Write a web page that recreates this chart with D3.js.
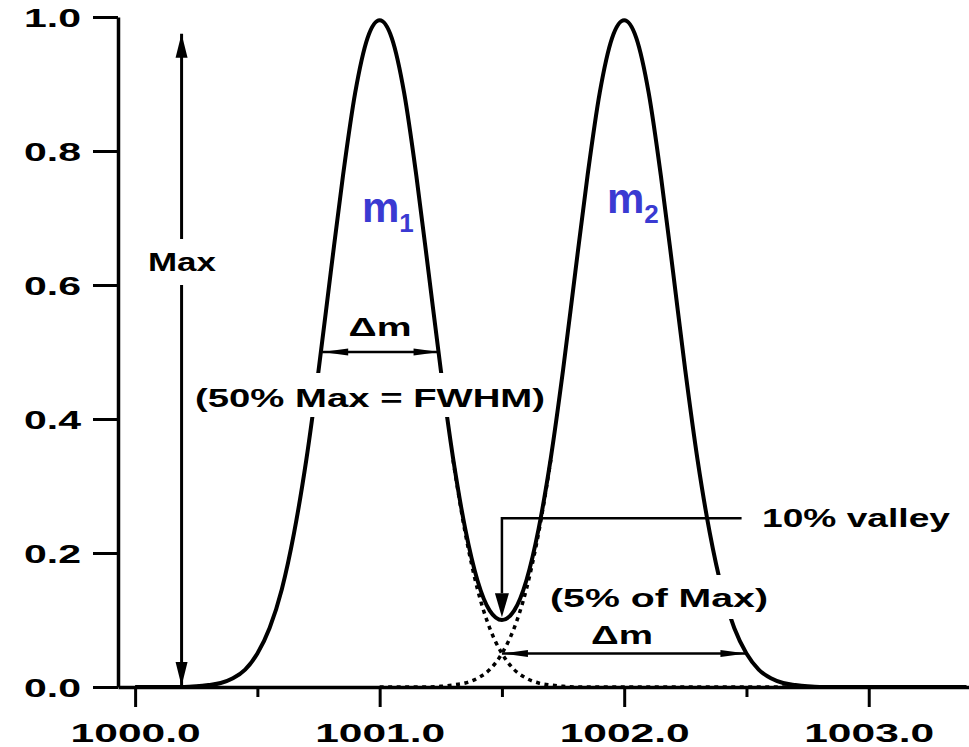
<!DOCTYPE html>
<html>
<head>
<meta charset="utf-8">
<script src="https://cdn.jsdelivr.net/npm/d3@7"></script>
<style>
  body { margin: 0; background: #fff; }
  svg { display: block; }
  text { font-family: "Liberation Sans", Arial, sans-serif; font-weight: bold; fill: #000; }
</style>
</head>
<body>
<svg id="chart" width="969" height="747"></svg>
<script>
// mass axis (u) and signal
const totalMass = [1000.0,
  1000.20, 1000.25, 1000.30, 1000.35, 1000.40, 1000.45, 1000.50, 1000.55, 1000.60, 1000.65,
  1000.70, 1000.75, 1000.80, 1000.85, 1000.90, 1000.95, 1001.00, 1001.05, 1001.10, 1001.15,
  1001.20, 1001.25, 1001.30, 1001.35, 1001.40, 1001.45, 1001.50, 1001.55, 1001.60, 1001.65,
  1001.70, 1001.75, 1001.80, 1001.85, 1001.90, 1001.95, 1002.00, 1002.05, 1002.10, 1002.15,
  1002.20, 1002.25, 1002.30, 1002.35, 1002.40, 1002.45, 1002.50, 1002.55, 1002.60, 1002.65,
  1002.70, 1002.75, 1002.80,
  1003.40];
const totalSignal = [0,
  0.000, 0.001, 0.003, 0.006, 0.013, 0.026, 0.050, 0.088, 0.146, 0.230,
  0.339, 0.472, 0.619, 0.763, 0.887, 0.968, 0.995, 0.968, 0.887, 0.763,
  0.619, 0.473, 0.342, 0.236, 0.159, 0.114, 0.100, 0.114, 0.159, 0.236,
  0.342, 0.473, 0.619, 0.763, 0.887, 0.968, 0.995, 0.968, 0.887, 0.763,
  0.619, 0.472, 0.339, 0.230, 0.146, 0.088, 0.050, 0.026, 0.013, 0.006,
  0.003, 0.001, 0.000,
  0];

// single peaks (dotted) where they separate from the sum
const peak1Mass = [1001.30, 1001.35, 1001.40, 1001.45, 1001.50, 1001.55, 1001.60, 1001.65, 1001.70, 1001.75, 1001.80, 1002.70];
const peak1Signal = [0.339, 0.230, 0.146, 0.088, 0.050, 0.026, 0.013, 0.006, 0.003, 0.001, 0.000, 0];
const peak2Mass = [1001.00, 1001.20, 1001.25, 1001.30, 1001.35, 1001.40, 1001.45, 1001.50, 1001.55, 1001.60, 1001.65, 1001.70];
const peak2Signal = [0, 0.000, 0.001, 0.003, 0.006, 0.013, 0.026, 0.050, 0.088, 0.146, 0.230, 0.339];

const xMajorTicks = [1000.0, 1001.0, 1002.0, 1003.0];
const xMinorTicks = [1000.5, 1001.5, 1002.5];
const yTicks = [0.0, 0.2, 0.4, 0.6, 0.8, 1.0];

const svg = d3.select("#chart");

const x = d3.scaleLinear().domain([999.93, 1003.41]).range([118, 969]);
const y = d3.scaleLinear().domain([0, 1]).range([687, 17]);

const line = d3.line().x(d => x(d[0])).y(d => y(d[1])).curve(d3.curveMonotoneX);

// dotted individual peaks
[[peak1Mass, peak1Signal], [peak2Mass, peak2Signal]].forEach(([m, s]) => {
  svg.append("path")
    .datum(d3.zip(m, s))
    .attr("d", line)
    .attr("fill", "none")
    .attr("stroke", "#000")
    .attr("stroke-width", 3.5)
    .attr("stroke-dasharray", "4,4.5");
});

// summed spectrum
svg.append("path")
  .datum(d3.zip(totalMass, totalSignal))
  .attr("d", line)
  .attr("fill", "none")
  .attr("stroke", "#000")
  .attr("stroke-width", 4)
  .attr("stroke-linejoin", "round");

// axes
const yAxis = svg.append("g")
  .attr("transform", `translate(${x.range()[0]},0)`)
  .call(d3.axisLeft(y).tickValues(yTicks).tickSize(25).tickSizeOuter(0).tickFormat(d3.format(".1f")));
yAxis.select(".domain").attr("stroke-width", 3.5);
yAxis.selectAll(".tick line").attr("stroke-width", 3);
yAxis.selectAll(".tick text")
  .attr("x", -37).attr("dy", "0.36em")
  .attr("font-size", 26)
  .attr("textLength", 57).attr("lengthAdjust", "spacingAndGlyphs");

const xAxis = svg.append("g")
  .attr("transform", `translate(0,${y(0)})`)
  .call(d3.axisBottom(x).tickValues(xMajorTicks).tickSize(20).tickSizeOuter(0).tickFormat(d3.format(".1f")));
xAxis.select(".domain").attr("stroke-width", 3.5);
xAxis.selectAll(".tick line").attr("stroke-width", 3);
xAxis.selectAll(".tick text")
  .attr("y", 55).attr("dy", 0)
  .attr("font-size", 26)
  .attr("textLength", 130).attr("lengthAdjust", "spacingAndGlyphs");

svg.append("g")
  .attr("transform", `translate(0,${y(0)})`)
  .call(d3.axisBottom(x).tickValues(xMinorTicks).tickSize(10).tickFormat(""))
  .call(g => g.select(".domain").remove())
  .selectAll(".tick line").attr("stroke-width", 3);

// arrows
const ann = svg.append("g").attr("stroke", "#000").attr("fill", "#000");

function head(tx, ty, dx, dy, len, hw) {
  const bx = tx - dx * len, by = ty - dy * len;
  const px = -dy * hw, py = dx * hw;
  ann.append("path")
    .attr("stroke", "none")
    .attr("d", `M${tx},${ty}L${bx + px},${by + py}L${bx - px},${by - py}Z`);
}

// Max double arrow
const maxX = x(1000.19);
ann.append("line").attr("x1", maxX).attr("x2", maxX)
  .attr("y1", y(0)).attr("y2", y(0.975)).attr("stroke-width", 3);
head(maxX, y(0.975), 0, -1, 24, 6);
head(maxX, y(0) - 1, 0, 1, 24, 6);

// FWHM double arrow
const fwhmL = x(1000.765), fwhmR = x(1001.245), fwhmY = y(0.5);
ann.append("line").attr("x1", fwhmL).attr("x2", fwhmR)
  .attr("y1", fwhmY).attr("y2", fwhmY).attr("stroke-width", 2.5);
head(fwhmL, fwhmY, -1, 0, 26, 3.5);
head(fwhmR, fwhmY, 1, 0, 26, 3.5);

// 10% valley pointer
const vX = x(1001.5), vY = y(0.252);
ann.append("path").attr("fill", "none").attr("stroke-width", 2.5)
  .attr("d", `M${x(1002.48)},${vY}H${vX}V${y(0.14)}`);
head(vX, y(0.104), 0, 1, 24, 7);

// 5% double arrow
const fiveL = x(1001.5), fiveR = x(1002.5), fiveY = y(0.05);
ann.append("line").attr("x1", fiveL).attr("x2", fiveR)
  .attr("y1", fiveY).attr("y2", fiveY).attr("stroke-width", 2.5);
head(fiveL, fiveY, -1, 0, 26, 3.5);
head(fiveR, fiveY, 1, 0, 26, 3.5);

// labels (wide, scanned-type lettering)
function label(txt, cx, base, width, bg) {
  if (bg) {
    svg.append("rect")
      .attr("x", cx - width / 2 - bg[0]).attr("y", base - 22 - bg[1])
      .attr("width", width + 2 * bg[0]).attr("height", 28 + bg[1] + bg[2])
      .attr("fill", "#fff");
  }
  svg.append("text")
    .attr("x", cx).attr("y", base)
    .attr("text-anchor", "middle")
    .attr("font-size", 26)
    .attr("textLength", width).attr("lengthAdjust", "spacingAndGlyphs")
    .text(txt);
}

label("Max", 182, 271, 68, [6, 10, 8]);
label("\u0394m", 380, 336, 63);
label("(50% Max = FWHM)", 370, 407, 350, [3, 12, 4]);
label("10% valley", 856, 527, 188);
label("(5% of Max)", 659, 607, 218, [4, 10, 6]);
label("\u0394m", 622, 644, 62);

// peak names
function peakName(main, sub, xm, base) {
  const t = svg.append("text")
    .attr("x", xm).attr("y", base)
    .style("fill", "#3a3ad2")
    .attr("font-size", 42);
  t.append("tspan").text(main);
  t.append("tspan").attr("font-size", 26).attr("dy", 10).text(sub);
}
peakName("m", "1", 362, 222);
peakName("m", "2", 607, 213);
</script>
</body>
</html>
